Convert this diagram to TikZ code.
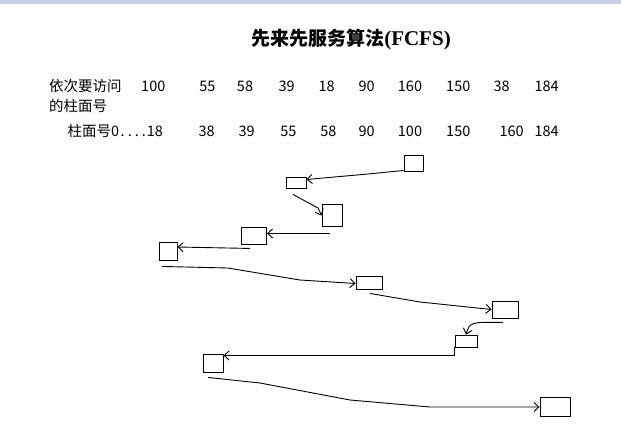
\documentclass[tikz,border=0pt]{standalone}
\usepackage{fontspec}
\setmainfont{Noto Sans CJK SC}
\newfontfamily\titlefont{Noto Sans CJK SC}
\newfontfamily\latinserif{Liberation Serif}
\usetikzlibrary{arrows.meta}
\definecolor{bandcol}{HTML}{C5D0E2}
\tikzset{
  txt/.style={inner sep=0pt, font=\fontsize{14.5}{16}\selectfont},
  box/.style={draw, line width=0.9pt, inner sep=0pt},
  arr/.style={line width=0.9pt, -{Straight Barb[length=5pt,width=9pt]}},
}
\begin{document}
\begin{tikzpicture}[x=1pt,y=-1pt]
\useasboundingbox (0,0) rectangle (621,439);
\fill[bandcol] (0,0) rectangle (621,3.5);
\node[inner sep=0pt, font=\titlefont\bfseries\fontsize{19}{22}\selectfont] (title) at (351,40) {先来先服务算法{\latinserif\bfseries\fontsize{21}{22}\selectfont (FCFS)}};
% row 1
\node[txt, anchor=west] (r1) at (49,86) {依次要访问};
\node[txt, anchor=west] (r2) at (49,106) {的柱面号};
\foreach \v/\x [count=\i] in {100/153.3,55/207.3,58/245,39/286.7,18/326.7,90/366.7,160/410,150/458.3,38/501.7,184/546.7}
  \node[txt] (a\i) at (\x,86) {\v};
% row 3
\node[txt, anchor=west] (b0) at (67.5,131) {柱面号0\hspace{1.5pt}.\hspace{3pt}.\hspace{3pt}.\hspace{3pt}.\hspace{1pt}18};
\foreach \v/\x [count=\i from 2] in {38/206.7,39/246.7,55/288.3,58/328.3,90/366.7,100/410,150/458.3,160/511.7,184/546.7}
  \node[txt] (b\i) at (\x,131) {\v};
% boxes
\node[box, minimum width=19pt, minimum height=16pt] (A) at (413.5,163) {};
\node[box, minimum width=20pt, minimum height=11pt] (B) at (296,182.5) {};
\node[box, minimum width=20pt, minimum height=22pt] (C) at (332,215.5) {};
\node[box, minimum width=25pt, minimum height=17pt] (D) at (254,235.5) {};
\node[box, minimum width=18pt, minimum height=18pt] (E) at (168,251) {};
\node[box, minimum width=26pt, minimum height=13pt] (F) at (369,282.5) {};
\node[box, minimum width=26pt, minimum height=17pt] (G) at (505,309.5) {};
\node[box, minimum width=22pt, minimum height=12pt] (H) at (466,341) {};
\node[box, minimum width=20pt, minimum height=18pt] (I) at (213,363) {};
\node[box, minimum width=30pt, minimum height=19pt] (J) at (555,407) {};
% connectors
\draw[arr] ([yshift=1pt]A.south west) -- (368,174) -- ([yshift=3pt]B.east);
\draw[arr] ([xshift=-3pt,yshift=-6pt]B.south) -- (318,208) -- (C.west);
\coordinate (cd) at ([xshift=-2pt,yshift=-6.5pt]C.south);
\draw[arr] (cd) -- (cd -| D.east);
\coordinate (de) at ([xshift=-4pt,yshift=-4pt]D.south);
\draw[arr] (de) -- ([yshift=4pt]E.east);
\draw[arr] ([xshift=-6pt,yshift=-6pt]E.south) -- (228,268) -- (300,280) -- ([yshift=-1pt]F.west);
\draw[arr] ([xshift=1pt,yshift=-4pt]F.south) -- (420,302) -- (G.west);
\draw[arr] ([xshift=-2pt,yshift=-4pt]G.south) .. controls (470,322) .. (H.north);
\draw[arr] (H.south west) |- ([yshift=-2pt]I.north east);
\draw[arr] ([xshift=-5pt,yshift=-5pt]I.south) -- (260,383) -- (350,400) -- (430,407) -- (J.west);
\end{tikzpicture}
\end{document}
